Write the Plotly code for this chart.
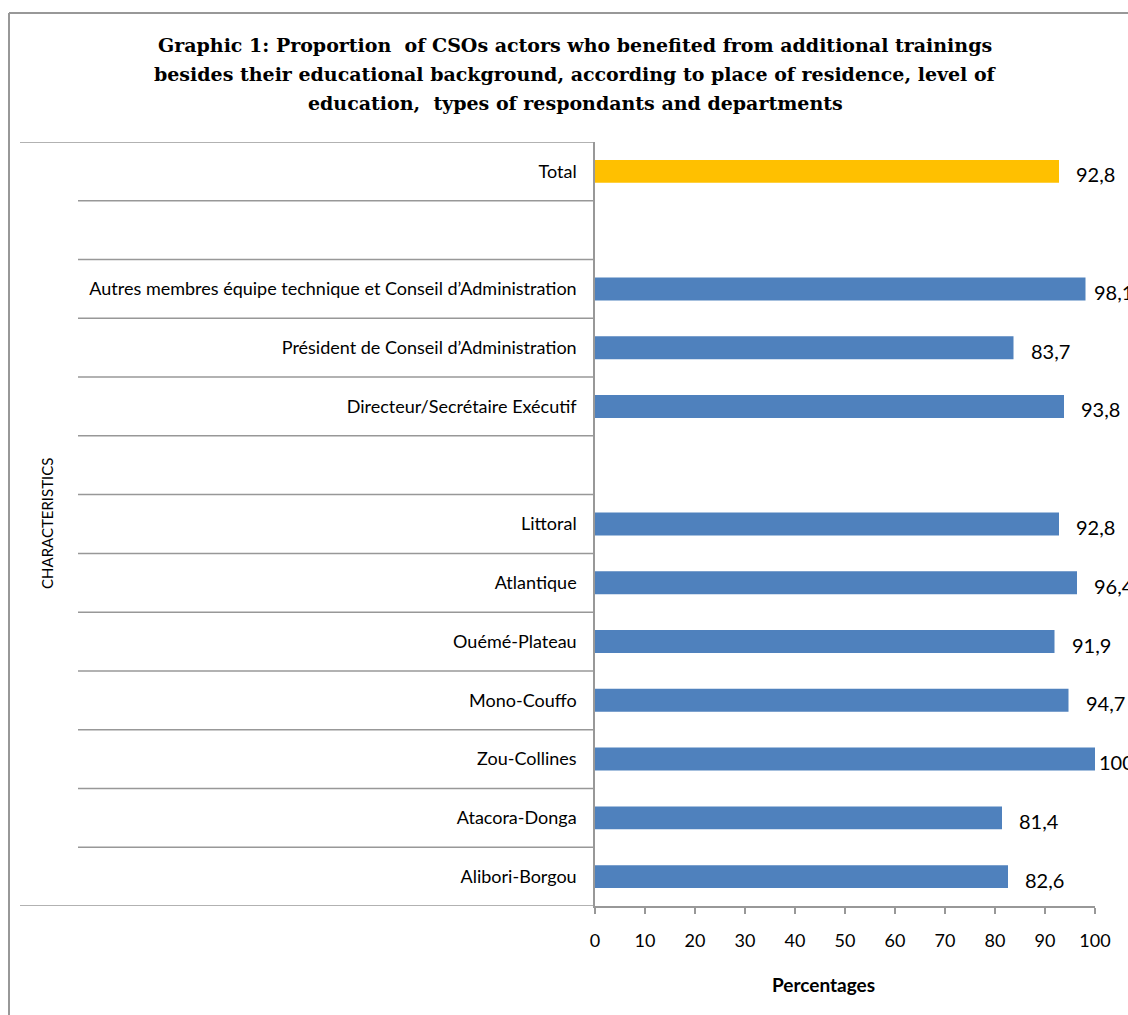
import plotly.graph_objects as go

# ---------------- data ----------------
categories = [
    "Total",
    "",
    "Autres membres équipe technique et Conseil d’Administration",
    "Président de Conseil d’Administration",
    "Directeur/Secrétaire Exécutif",
    "",
    "Littoral",
    "Atlantique",
    "Ouémé-Plateau",
    "Mono-Couffo",
    "Zou-Collines",
    "Atacora-Donga",
    "Alibori-Borgou",
]
values = [92.8, None, 98.1, 83.7, 93.8, None, 92.8, 96.4, 91.9, 94.7, 100, 81.4, 82.6]
value_labels = ["92,8", "", "98,1", "83,7", "93,8", "", "92,8", "96,4", "91,9", "94,7", "100", "81,4", "82,6"]
x_ticks = [0, 10, 20, 30, 40, 50, 60, 70, 80, 90, 100]
x_tick_labels = ["0", "10", "20", "30", "40", "50", "60", "70", "80", "90", "100"]

title_lines = [
    "Graphic 1: Proportion  of CSOs actors who benefited from additional trainings",
    "besides their educational background, according to place of residence, level of",
    "education,  types of respondants and departments",
]

# ---------------- layout geometry ----------------
W, H = 1128, 1015
L, R, T, B = 595, 33, 142, 109
plot_w = W - L - R
plot_h = H - T - B
GRAY = "#989898"
FONT = "Lato"

positions = list(range(len(categories)))
colors = ["#FFC000" if c == "Total" else "#4F81BD" for c in categories]


def px_to_paper_x(px):
    return (px - L) / plot_w


def px_to_paper_y(py):
    return (H - B - py) / plot_h


fig = go.Figure()
fig.add_trace(go.Bar(
    x=values,
    y=positions,
    orientation="h",
    marker=dict(color=colors, line=dict(width=0)),
    width=0.39,
    hoverinfo="skip",
))

annotations = []
# title lines
for i, line in enumerate(title_lines):
    annotations.append(dict(
        x=px_to_paper_x(575), y=px_to_paper_y(45 + 29 * i), xref="paper", yref="paper",
        text="<b>" + line + "</b>", showarrow=False,
        xanchor="center", yanchor="middle",
        font=dict(family="DejaVu Serif", size=19, color="#000000"),
    ))

# data labels
for p, v, lab in zip(positions, values, value_labels):
    if v is None:
        continue
    bar_end_px = L + v / 100 * plot_w
    est_w = len(lab) * 10.2 - (5 if "," in lab else 0)
    shift = min(15, W - est_w - bar_end_px)
    annotations.append(dict(
        x=v, y=p, xref="x", yref="y", text=lab, showarrow=False,
        xanchor="left", yanchor="middle", xshift=shift, yshift=-3,
        font=dict(family=FONT, size=20, color="#000000"),
    ))

# y axis title
annotations.append(dict(
    x=px_to_paper_x(47), y=0.5, xref="paper", yref="paper",
    text="CHARACTERISTICS", textangle=-90, showarrow=False,
    xanchor="center", yanchor="middle",
    font=dict(family=FONT, size=15, color="#000000"),
))
# x axis title
annotations.append(dict(
    x=px_to_paper_x(823), y=px_to_paper_y(984), xref="paper", yref="paper",
    text="<b>Percentages</b>", showarrow=False,
    xanchor="center", yanchor="middle",
    font=dict(family=FONT, size=19, color="#000000"),
))

shapes = []
# category separator lines
n = len(categories)
for k in range(n + 1):
    yb = k - 0.5
    x0 = px_to_paper_x(20) if k in (0, n) else px_to_paper_x(78)
    shapes.append(dict(
        type="line", xref="paper", yref="y", x0=x0, x1=0, y0=yb, y1=yb,
        line=dict(color=GRAY, width=1.5), layer="above",
    ))
# outer chart border (left and top edges visible; rest beyond the page)
bx, by = px_to_paper_x(9), px_to_paper_y(13)
shapes.append(dict(type="line", xref="paper", yref="paper", x0=bx, x1=bx, y0=by, y1=-1,
                   line=dict(color=GRAY, width=2)))
shapes.append(dict(type="line", xref="paper", yref="paper", x0=bx, x1=2, y0=by, y1=by,
                   line=dict(color=GRAY, width=2)))

fig.update_layout(
    width=W, height=H,
    margin=dict(l=L, r=R, t=T, b=B, pad=0),
    paper_bgcolor="white", plot_bgcolor="white",
    showlegend=False,
    xaxis=dict(
        range=[0, 100], tickvals=x_ticks, ticktext=x_tick_labels,
        showgrid=False, zeroline=False,
        showline=True, linecolor=GRAY, linewidth=1.5,
        ticks="outside", ticklen=6, tickcolor=GRAY, tickwidth=1.5,
        ticklabelstandoff=12,
        tickfont=dict(family=FONT, size=18, color="#000000"),
        fixedrange=True,
    ),
    yaxis=dict(
        range=[n - 0.5, -0.5], tickvals=positions, ticktext=categories,
        showgrid=False, zeroline=False,
        showline=True, linecolor=GRAY, linewidth=1.5,
        ticks="", ticklabelstandoff=13,
        tickfont=dict(family=FONT, size=18, color="#000000"),
        fixedrange=True,
    ),
    annotations=annotations,
    shapes=shapes,
)

fig.write_html(
    "out.html",
    config={"displayModeBar": False},
    post_script="document.body.style.margin='0';document.body.style.overflow='hidden';",
)
